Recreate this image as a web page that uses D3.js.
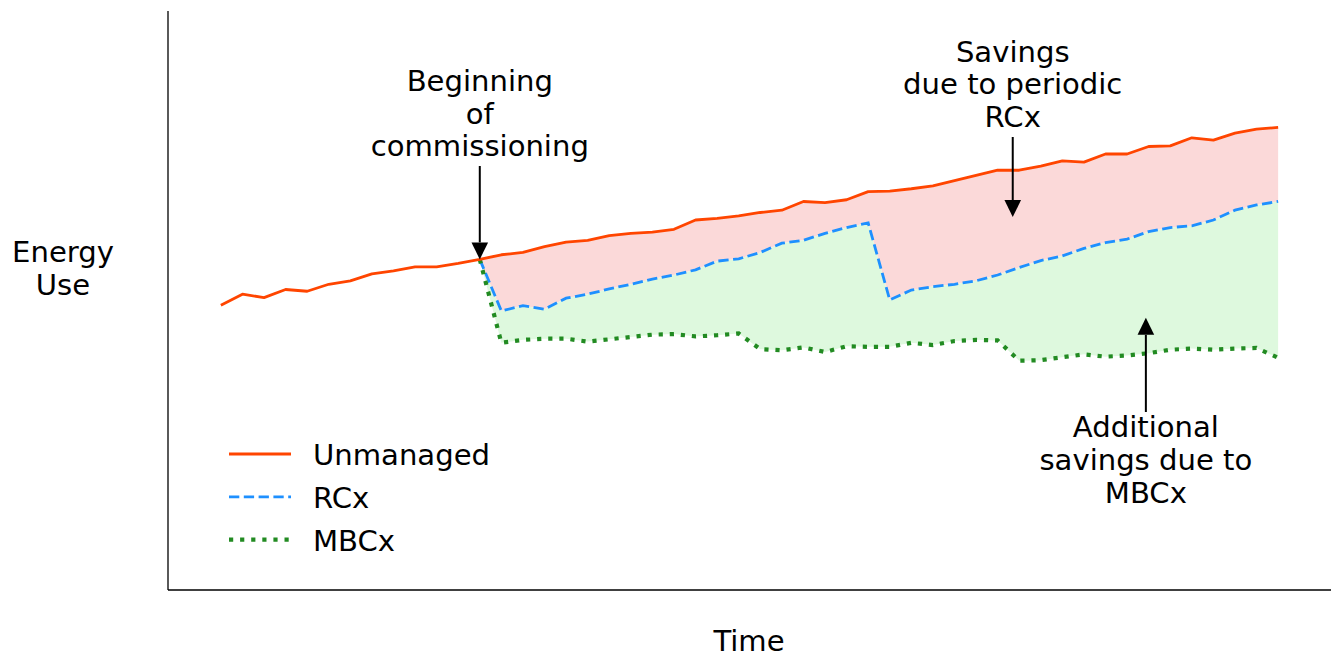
<!DOCTYPE html>
<html>
<head>
<meta charset="utf-8">
<script src="https://cdn.jsdelivr.net/npm/d3@7"></script>
<style>
  html, body { margin: 0; padding: 0; background: #fff; }
  svg text { font-family: "DejaVu Sans", sans-serif; font-size: 29.1px; fill: #000; }
</style>
</head>
<body>
<svg id="chart" width="1337" height="668"></svg>
<script>
// Données (indice temporel 0..49, énergie en unités arbitraires)
const unmanaged = [49.2, 51.1, 50.5, 51.9, 51.6, 52.8, 53.4, 54.6, 55.1, 55.8,
  55.8, 56.4, 57.1, 57.9, 58.3, 59.3, 60.1, 60.4, 61.2, 61.6,
  61.8, 62.3, 63.9, 64.2, 64.6, 65.2, 65.6, 67.1, 66.9, 67.4,
  68.8, 68.9, 69.3, 69.8, 70.7, 71.6, 72.5, 72.5, 73.2, 74.1,
  73.9, 75.3, 75.3, 76.6, 76.7, 78.1, 77.7, 78.9, 79.6, 79.9]

// Début du commissioning à l'indice 12
const startIndex = 12
const rcx = [57.1, 48.2, 49.1, 48.5, 50.4, 51.1, 52.0, 52.8, 53.7, 54.4,
  55.3, 56.8, 57.2, 58.3, 59.9, 60.4, 61.6, 62.6, 63.4, 50.1,
  51.8, 52.4, 52.8, 53.4, 54.4, 55.7, 56.9, 57.7, 59.0, 60.0,
  60.6, 61.9, 62.6, 62.9, 63.9, 65.6, 66.5, 67.1]
const mbcx = [57.1, 42.7, 43.2, 43.4, 43.4, 42.9, 43.3, 43.7, 44.1, 44.2,
  43.8, 44.0, 44.3, 41.6, 41.4, 41.9, 41.1, 42.1, 42.0, 42.0,
  42.7, 42.3, 43.0, 43.2, 43.1, 39.6, 39.7, 40.2, 40.7, 40.3,
  40.5, 40.9, 41.5, 41.7, 41.5, 41.7, 41.8, 40.1]

const seriesNames = ['Unmanaged', 'RCx', 'MBCx']
const seriesColors = ['#ff4500', '#1e90ff', '#228b22']

const annotations = [
  {lines: ['Beginning', 'of', 'commissioning'], x: 12, y: 57.1, textY: 91, tail: 166, dir: 'down'},
  {lines: ['Savings', 'due to periodic', 'RCx'], x: 36.7, y: 64.4, textY: 61.7, tail: 137, dir: 'down'},
  {lines: ['Additional', 'savings due to', 'MBCx'], x: 42.87, y: 47.0, textY: 437.3, tail: 412, dir: 'up'}
]

//Dimensions du repère
const margin = {left: 168, right: 1331, top: 11, bottom: 590}

const svg = d3.select('#chart')

const x = d3.scaleLinear().domain([-2.45, 51.45]).range([margin.left, margin.right])
const y = d3.scaleLinear().domain([0, 100]).range([margin.bottom, margin.top])

const full = unmanaged.map((v, i) => ({i: i, v: v}))
const managed = rcx.map((v, k) => ({i: k + startIndex, r: v, m: mbcx[k], u: unmanaged[k + startIndex]}))

//Zones remplies
svg.append('path')
  .datum(managed)
  .attr('fill', '#fbd9d9')
  .attr('d', d3.area().x(d => x(d.i)).y0(d => y(d.r)).y1(d => y(d.u)))

svg.append('path')
  .datum(managed)
  .attr('fill', '#def9de')
  .attr('d', d3.area().x(d => x(d.i)).y0(d => y(d.m)).y1(d => y(d.r)))

//Courbes
const line = d3.line().x(d => x(d.i)).y(d => y(d.v))

svg.append('path')
  .datum(managed.map(d => ({i: d.i, v: d.r})))
  .attr('fill', 'none')
  .attr('stroke', seriesColors[1])
  .attr('stroke-width', 2.8)
  .attr('stroke-dasharray', '10.3,4.5')
  .attr('d', line)

svg.append('path')
  .datum(managed.map(d => ({i: d.i, v: d.m})))
  .attr('fill', 'none')
  .attr('stroke', seriesColors[2])
  .attr('stroke-width', 4.2)
  .attr('stroke-dasharray', '4.2,6.9')
  .attr('d', line)

svg.append('path')
  .datum(full)
  .attr('fill', 'none')
  .attr('stroke', seriesColors[0])
  .attr('stroke-width', 2.8)
  .attr('stroke-linejoin', 'round')
  .attr('d', line)

//Axes (seulement les bordures gauche et bas, sans graduations)
svg.append('line')
  .attr('x1', margin.left).attr('x2', margin.left)
  .attr('y1', margin.top).attr('y2', margin.bottom)
  .attr('stroke', '#000').attr('stroke-width', 1.3)
svg.append('line')
  .attr('x1', margin.left).attr('x2', margin.right)
  .attr('y1', margin.bottom).attr('y2', margin.bottom)
  .attr('stroke', '#000').attr('stroke-width', 1.3)

svg.append('text').attr('x', 749).attr('y', 651).attr('text-anchor', 'middle').text('Time')
const yLabel = svg.append('text').attr('text-anchor', 'middle')
yLabel.append('tspan').attr('x', 63).attr('y', 262).text('Energy')
yLabel.append('tspan').attr('x', 63).attr('y', 295).text('Use')

//Annotations avec flèches
annotations.forEach(function(a) {
  const ax = x(a.x)
  const tip = y(a.y)
  const t = svg.append('text').attr('text-anchor', 'middle')
  a.lines.forEach(function(l, k) {
    t.append('tspan').attr('x', ax).attr('y', a.textY + k * 32.6).text(l)
  })
  const headLen = 17
  const sign = a.dir === 'down' ? 1 : -1
  svg.append('line')
    .attr('x1', ax).attr('x2', ax)
    .attr('y1', a.tail).attr('y2', tip - sign * headLen)
    .attr('stroke', '#000').attr('stroke-width', 2)
  svg.append('path')
    .attr('d', 'M' + (ax - 8.3) + ',' + (tip - sign * headLen) + 'L' + (ax + 8.3) + ',' + (tip - sign * headLen) + 'L' + ax + ',' + tip + 'Z')
    .attr('fill', '#000')
})

//Légende
const legend = svg.append('g').attr('transform', 'translate(229, 454)')
const legendStyles = [
  {w: 2.8, dash: null},
  {w: 2.8, dash: '10.3,4.5'},
  {w: 4.2, dash: '4.2,6.9'}
]
seriesNames.forEach(function(name, k) {
  const g = legend.append('g').attr('transform', 'translate(0,' + (k * 42.8) + ')')
  g.append('line')
    .attr('x1', 0).attr('x2', 62).attr('y1', 0).attr('y2', 0)
    .attr('stroke', seriesColors[k])
    .attr('stroke-width', legendStyles[k].w)
    .attr('stroke-dasharray', legendStyles[k].dash)
  g.append('text').attr('x', 84).attr('y', 11).text(name)
})
</script>
</body>
</html>
